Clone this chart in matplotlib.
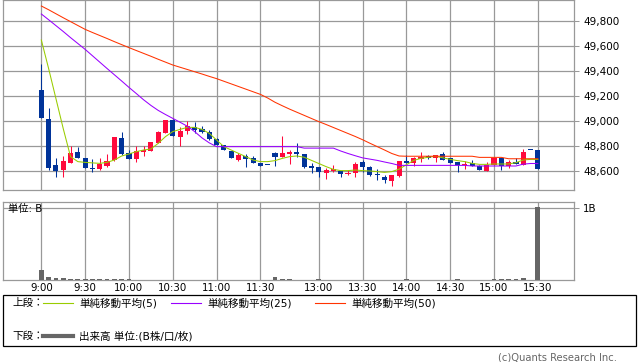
import matplotlib.pyplot as plt
from matplotlib.patches import Rectangle
from matplotlib.lines import Line2D

plt.rcParams['font.family'] = ['DejaVu Sans', 'Noto Sans CJK JP']

# 5分足 (index 0 = 9:00, 30 = 11:30, 32 = 12:30, 68 = 15:30)
opens = [49248, 49016, 48648, 48608, 48664, 48750, 48704, 48627, 48620, 48640,
         48690, 48867, 48746, 48696, 48755, 48763, 48821, 48907, 49008, 48875,
         48920, 48949, 48933, 48915, 48856, 48806, 48762, 48688, 48722, 48704,
         48667, 48645, 48747, 48715, 48733, 48752, 48736, 48640, 48629, 48587,
         48597, 48600, 48576, 48587, 48675, 48635, 48576, 48555, 48523, 48560,
         48680, 48667, 48699, 48720, 48701, 48735, 48701, 48672, 48645, 48667,
         48640, 48600, 48648, 48707, 48640, 48669, 48648, 48768, 48768]
highs = [49453, 49101, 48701, 48720, 48803, 48795, 48707, 48693, 48701, 48736,
         48875, 48915, 48770, 48797, 48804, 48833, 48917, 49008, 49013, 48952,
         48997, 48992, 48958, 48925, 48861, 48808, 48762, 48745, 48736, 48722,
         48667, 48645, 48752, 48880, 48768, 48821, 48736, 48661, 48635, 48621,
         48648, 48600, 48608, 48675, 48688, 48640, 48613, 48565, 48568, 48680,
         48728, 48715, 48749, 48728, 48728, 48749, 48701, 48672, 48680, 48688,
         48648, 48669, 48707, 48707, 48688, 48701, 48773, 48768, 48768]
lows = [49021, 48608, 48555, 48555, 48661, 48701, 48627, 48595, 48605, 48629,
        48680, 48728, 48696, 48670, 48720, 48763, 48821, 48907, 48877, 48800,
        48895, 48904, 48905, 48848, 48808, 48766, 48707, 48682, 48635, 48661,
        48643, 48645, 48643, 48709, 48656, 48715, 48621, 48587, 48555, 48536,
        48595, 48555, 48568, 48555, 48595, 48563, 48528, 48501, 48483, 48555,
        48661, 48643, 48675, 48693, 48675, 48688, 48667, 48595, 48616, 48640,
        48608, 48600, 48648, 48608, 48621, 48656, 48648, 48768, 48616]
closes = [49021, 48627, 48600, 48680, 48747, 48707, 48627, 48616, 48653, 48680,
          48875, 48736, 48696, 48762, 48768, 48833, 48915, 49008, 48880, 48918,
          48960, 48930, 48909, 48856, 48808, 48766, 48707, 48728, 48700, 48661,
          48643, 48645, 48715, 48741, 48755, 48739, 48629, 48627, 48595, 48611,
          48613, 48576, 48587, 48656, 48635, 48568, 48565, 48528, 48568, 48680,
          48667, 48701, 48709, 48701, 48728, 48690, 48667, 48648, 48656, 48640,
          48608, 48648, 48707, 48640, 48669, 48656, 48755, 48768, 48616]

sma5 = [49648, 49419, 49179, 48939, 48715, 48675, 48669, 48665, 48661, 48669,
        48688, 48720, 48736, 48755, 48768, 48776, 48821, 48875, 48915, 48933,
        48949, 48949, 48933, 48901, 48848, 48795, 48768, 48741, 48715, 48688,
        48675, 48675, 48683, 48701, 48715, 48720, 48710, 48685, 48660, 48635,
        48613, 48603, 48603, 48608, 48603, 48600, 48595, 48589, 48595, 48615,
        48650, 48685, 48701, 48710, 48718, 48705, 48693, 48683, 48675, 48661,
        48653, 48653, 48656, 48656, 48656, 48667, 48688, 48693, 48693]
sma25 = [49856, 49810, 49763, 49716, 49667, 49620, 49573, 49522, 49471, 49420,
         49370, 49320, 49269, 49220, 49170, 49125, 49085, 49052, 49021, 48990,
         48958, 48915, 48865, 48825, 48795, 48795, 48795, 48795, 48795, 48795,
         48795, 48795, 48795, 48795, 48795, 48795, 48783, 48783, 48783, 48783,
         48783, 48760, 48740, 48722, 48705, 48695, 48685, 48672, 48660, 48645,
         48645, 48645, 48645, 48645, 48645, 48645, 48645, 48645, 48645, 48640,
         48640, 48640, 48640, 48640, 48640, 48640, 48655, 48660, 48660]
sma50 = [49920, 49890, 49858, 49826, 49795, 49764, 49733, 49708, 49684, 49660,
         49635, 49611, 49587, 49564, 49541, 49518, 49494, 49471, 49448, 49430,
         49412, 49394, 49376, 49357, 49339, 49318, 49297, 49276, 49255, 49234,
         49213, 49184, 49150, 49122, 49095, 49070, 49045, 49020, 48995, 48972,
         48948, 48924, 48900, 48876, 48850, 48822, 48795, 48768, 48740, 48720,
         48718, 48718, 48718, 48718, 48718, 48718, 48718, 48718, 48718, 48718,
         48709, 48709, 48709, 48709, 48698, 48698, 48698, 48698, 48698]

# 出来高 (単位: B)
volume = [0.133, 0.046, 0.032, 0.032, 0.018, 0.018, 0.018, 0.018, 0.018, 0.018,
          0.018, 0.018, 0.014, 0.006, 0.006, 0.006, 0.006, 0.006, 0.006, 0.006,
          0.006, 0.006, 0.006, 0.006, 0.006, 0.006, 0.006, 0.006, 0.006, 0.006,
          0.006, 0.006, 0.046, 0.02, 0.02, 0.006, 0.006, 0.006, 0.018, 0.006,
          0.006, 0.006, 0.006, 0.006, 0.006, 0.006, 0.006, 0.006, 0.006, 0.006,
          0.018, 0.006, 0.006, 0.006, 0.006, 0.006, 0.006, 0.018, 0.006, 0.006,
          0.006, 0.006, 0.018, 0.018, 0.018, 0.018, 0.032, 0.006, 1.02]

tick_pos = [0, 6, 12, 18, 24, 30, 38, 44, 50, 56, 62, 68]
tick_labels = ['9:00', '9:30', '10:00', '10:30', '11:00', '11:30',
               '13:00', '13:30', '14:00', '14:30', '15:00', '15:30']
price_ticks = [48600, 48800, 49000, 49200, 49400, 49600, 49800]

UP = '#ff0a3c'
DOWN = '#003399'
GRID = '#999999'

W, H = 638, 362
fig = plt.figure(figsize=(W / 100, H / 100), dpi=100)


def box(l, t, r, b):
    return [l / W, 1 - b / H, (r - l) / W, (b - t) / H]


ax = fig.add_axes(box(3, 0, 574, 190))
axv = fig.add_axes(box(3, 202, 574, 280))

# ローソク足
x = list(range(len(opens)))
for i in x:
    o, h, l, c = opens[i], highs[i], lows[i], closes[i]
    col = UP if c > o else DOWN
    ax.vlines(i, l, h, color=col, lw=0.75, zorder=3)
    bottom = min(o, c)
    height = max(abs(c - o), 8)
    ax.bar(i, height, bottom=bottom, width=0.7, color=col, lw=0, zorder=3)

ax.plot(x, sma5, color='#99cc00', lw=0.75, zorder=4)
ax.plot(x, sma25, color='#9900ff', lw=0.75, zorder=4)
ax.plot(x, sma50, color='#ff3300', lw=0.75, zorder=4)

xlim = (-5.25, 72.95)
ax.set_xlim(*xlim)
ax.set_ylim(48448, 49968)
ax.set_xticks(tick_pos)
ax.set_xticklabels([])
ax.set_yticks(price_ticks)
ax.set_yticklabels(['{:,}'.format(p) for p in price_ticks])
ax.yaxis.tick_right()
ax.tick_params(axis='y', length=3.6, width=0.75, color=GRID, labelsize=7.5, pad=3)
ax.tick_params(axis='x', length=0)
ax.grid(True, color=GRID, lw=0.9)
ax.set_axisbelow(True)
for s in ax.spines.values():
    s.set_color(GRID)
    s.set_linewidth(0.9)

# 出来高
axv.bar(x, volume, width=0.65, color='#666666', lw=0, zorder=3)
axv.set_xlim(*xlim)
axv.set_ylim(0, 1.083)
axv.set_xticks(tick_pos)
axv.set_xticklabels(tick_labels)
axv.set_yticks([1])
axv.set_yticklabels(['1B'])
axv.yaxis.tick_right()
axv.tick_params(axis='y', length=3.6, width=0.75, color=GRID, labelsize=7.4, pad=3)
axv.tick_params(axis='x', length=0, labelsize=7.4, pad=2.5)
axv.grid(True, color=GRID, lw=0.9)
axv.set_axisbelow(True)
for s in axv.spines.values():
    s.set_color(GRID)
    s.set_linewidth(0.9)

fig.text(8 / W, 1 - 209 / H, '単位: B', fontsize=7.4, va='center')

# 凡例
fig.add_artist(Rectangle((3 / W, 1 - 346 / H), 633 / W, 51 / H, fill=False,
                         edgecolor='black', lw=0.9, transform=fig.transFigure))


def legend_item(x0, y0, color, lw, label):
    fig.add_artist(Line2D([x0 / W, (x0 + 30) / W], [1 - y0 / H, 1 - y0 / H],
                          color=color, lw=lw, transform=fig.transFigure))
    fig.text((x0 + 36) / W, 1 - y0 / H, label, fontsize=7.6, va='center')


fig.text(12 / W, 1 - 303 / H, '上段：', fontsize=7.6, va='center')
legend_item(43, 303, '#99cc00', 0.8, '単純移動平均(5)')
legend_item(171, 303, '#9900ff', 0.8, '単純移動平均(25)')
legend_item(315, 303, '#ff3300', 0.8, '単純移動平均(50)')
fig.text(12 / W, 1 - 336 / H, '下段：', fontsize=7.6, va='center')
legend_item(43, 336, '#666666', 3, '出来高 単位:(B株/口/枚)')

fig.text(617 / W, 1 - 357 / H, '(c)Quants Research Inc.', fontsize=7.2,
         color='#666666', ha='right', va='center')

fig.savefig('out.png', dpi=100)
